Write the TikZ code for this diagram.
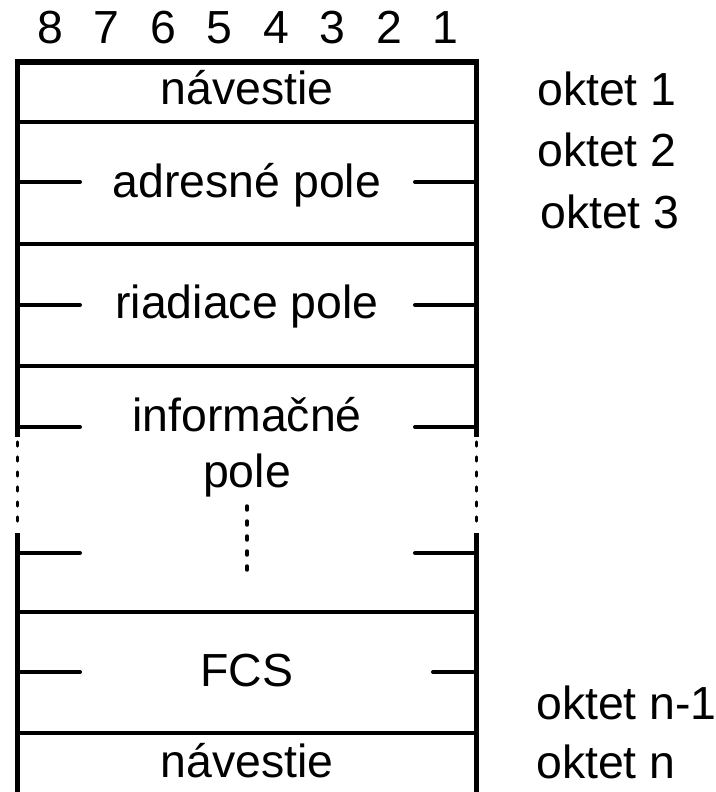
\documentclass[tikz,border=0pt]{standalone}
\usepackage{fontspec}
\setmainfont{Liberation Sans}

\tikzset{
	rowtext/.style={anchor=base, inner sep=0pt, font=\fontsize{34.8}{40}\selectfont},
	bittext/.style={anchor=base, inner sep=0pt, font=\fontsize{34.8}{40}\selectfont},
	sideline/.style={line width=3.75pt},
	topline/.style={line width=4.5pt},
	rowline/.style={line width=3pt},
	tickline/.style={line width=3pt, line cap=round},
	dotline/.style={line width=2.6pt, line cap=round, dash pattern=on 3pt off 8.25pt}
}

\begin{document}
\begin{tikzpicture}[x=0.75pt, y=-0.75pt]
		\useasboundingbox (0,0) rectangle (715,792);
		% bit numbers
		\foreach \b in {1,...,8}{
				\pgfmathsetmacro{\bx}{50.5+56.4*(8-\b)}
				\node[bittext] (bit\b) at (\bx,44) {\b};
		}
		% frame
		\coordinate (tl) at (17.5,62);
		\coordinate (tr) at (476.5,62);
		\draw[topline] (15,62) -- (479,62);
		\draw[sideline] (tl) -- (17.5,437);
		\draw[sideline] (tr) -- (476.5,437);
		\draw[sideline] (17.5,533) -- (17.5,792);
		\draw[sideline] (476.5,533) -- (476.5,792);
		\draw[dotline] (17.5,442) -- (17.5,530);
		\draw[dotline] (476.5,442) -- (476.5,530);
		\foreach \y in {122,244,366,612,733}{
				\draw[rowline] (17.5,\y) -- (476.5,\y);
		}
		% field names
		\foreach \y/\t/\n in{
				104/návestie/navtop,
				197/adresné pole/adr,
				318/riadiace pole/riad,
				431/informačné/info,
				487/pole/infopole,
				686/FCS/fcs,
				777/návestie/navbot
		}{
		\node[rowtext] (\n) at (247,\y) {\t};
		}
		% ticks at the frame sides
		\foreach \y/\r in{
				182/415,
				305/415,
				427/415,
				553/415,
				672/433
		}{
		\draw[tickline] (17.5,\y) -- (80,\y);
		\draw[tickline] (\r,\y) -- (476.5,\y);
		}
		\draw[dotline] (247,506) -- (247,576);
		% octet labels
		\foreach \x/\y/\t/\n in{
				537/105/1/okt1,
				537/166/2/okt2,
				540/228/3/okt3,
				536/719/n-1/oktn1,
				536/778/n/oktn
		}{
		\node[rowtext, anchor=base west] (\n) at (\x,\y) {oktet \t};
		}
\end{tikzpicture}
\end{document}
